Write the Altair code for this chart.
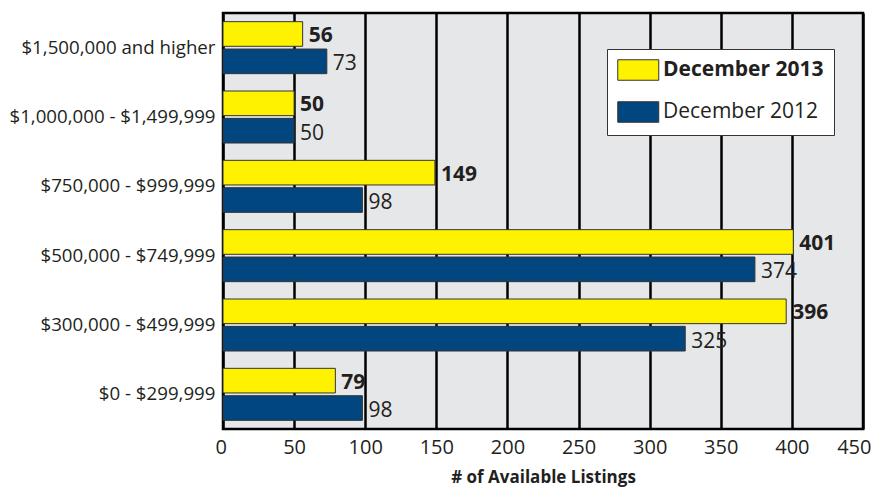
import altair as alt
import pandas as pd

categories = [
    "$1,500,000 and higher",
    "$1,000,000 - $1,499,999",
    "$750,000 - $999,999",
    "$500,000 - $749,999",
    "$300,000 - $499,999",
    "$0 - $299,999",
]
dec_2013 = [56, 50, 149, 401, 396, 79]
dec_2012 = [73, 50, 98, 374, 325, 98]
series = ["December 2013", "December 2012"]
x_ticks = [0, 50, 100, 150, 200, 250, 300, 350, 400, 450]

rows = []
for c, a, b in zip(categories, dec_2013, dec_2012):
    rows.append({"range": c, "series": series[0], "value": a})
    rows.append({"range": c, "series": series[1], "value": b})
df = pd.DataFrame(rows)

FONT = "Open Sans"
TXT = "#231f20"

y = alt.Y(
    "range:N",
    sort=categories,
    scale=alt.Scale(paddingInner=0.25, paddingOuter=0.125),
    axis=alt.Axis(
        title=None, labelFontSize=18.7, labelFont=FONT, labelColor=TXT,
        ticks=False, domain=False, grid=False, labelPadding=8, labelLimit=400,
    ),
)
yoff = alt.YOffset("series:N", sort=series, scale=alt.Scale(paddingInner=0.1))
x = alt.X(
    "value:Q",
    scale=alt.Scale(domain=[0, 450], nice=False),
    axis=alt.Axis(
        values=x_ticks, title="# of Available Listings", grid=True,
        gridColor="black", gridWidth=2.5, gridOpacity=1, ticks=False, domain=False,
        labelFontSize=20, labelFont=FONT, labelColor=TXT, labelPadding=8,
        labelFlush=True, labelFlushOffset=8,
        titleFontSize=17, titleFont=FONT, titleFontWeight="bold", titleColor=TXT,
        titlePadding=12,
    ),
)

color = alt.Color(
    "series:N",
    sort=series,
    scale=alt.Scale(domain=series, range=["#fff200", "#02467f"]),
    legend=alt.Legend(
        orient="none", legendX=384, legendY=36, title=None,
        fillColor="white", strokeColor="#333333", padding=10,
        symbolType="M-1,-1H3V1H-1Z", symbolSize=420.25,
        symbolStrokeColor="#333333", symbolStrokeWidth=1, symbolOpacity=1,
        labelFontSize=21, labelFont=FONT, labelColor=TXT, labelOffset=24,
        labelLimit=400, rowPadding=16,
        labelFontWeight={"expr": "datum.label == 'December 2013' ? 'bold' : 'normal'"},
    ),
)

base = alt.Chart(df)

bars = base.mark_bar(stroke="#333333", strokeWidth=1).encode(
    x=x, y=y, yOffset=yoff, color=color
)

lab13 = base.transform_filter(alt.datum.series == series[0]).mark_text(
    align="left", baseline="middle", dx=6, dy=2, fontSize=21, font=FONT,
    fontWeight="bold", color=TXT,
).encode(x="value:Q", y=alt.Y("range:N", sort=categories), yOffset=alt.YOffset("series:N", sort=series), text="value:Q")

lab12 = base.transform_filter(alt.datum.series == series[1]).mark_text(
    align="left", baseline="middle", dx=6, dy=3, fontSize=21, font=FONT,
    fontWeight="normal", color=TXT,
).encode(x="value:Q", y=alt.Y("range:N", sort=categories), yOffset=alt.YOffset("series:N", sort=series), text="value:Q")

chart = (
    alt.layer(bars, lab13, lab12)
    .properties(width=640, height=416, padding={"top": 5, "left": 0, "right": 0, "bottom": 6},
                background="white")
    .configure_view(stroke="black", strokeWidth=2.5, fill="#e6e7e8")
)

chart.save("out.html", embed_options={"renderer": "svg", "actions": False})
